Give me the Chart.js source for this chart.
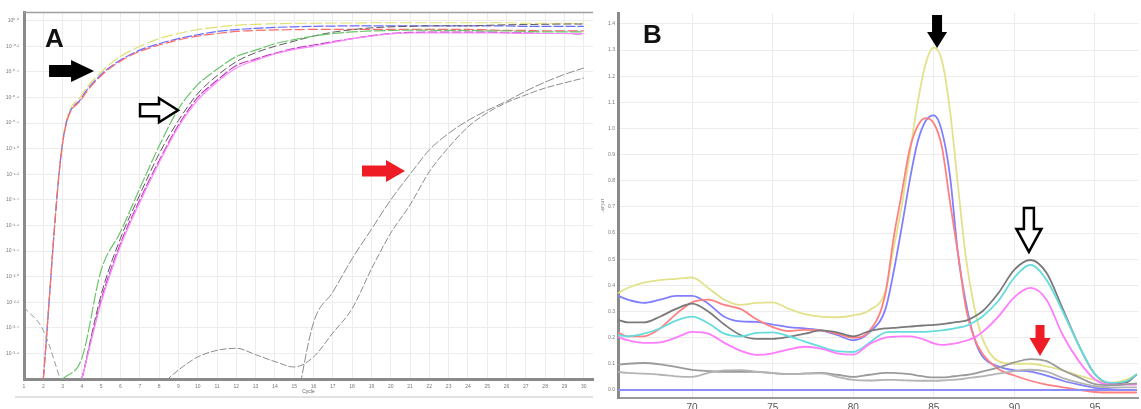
<!DOCTYPE html>
<html><head><meta charset="utf-8">
<script src="https://cdn.jsdelivr.net/npm/chart.js@4.4.0/dist/chart.umd.min.js"></script>
<style>
html,body{margin:0;padding:0;background:#fff;overflow:hidden;width:1141px;height:409px;}
#wrapA{position:absolute;left:0;top:0;width:600px;height:409px;}
#wrapB{position:absolute;left:600px;top:0;width:541px;height:420px;}
.lbl{position:absolute;font:bold 26px "Liberation Sans",Arial,sans-serif;line-height:26px;color:#111;}
</style></head><body>
<div id="wrapA"><canvas id="cA" width="600" height="409"></canvas></div>
<div id="wrapB"><canvas id="cB" width="541" height="420"></canvas></div>
<div class="lbl" style="left:45px;top:25px">A</div>
<div class="lbl" style="left:643px;top:21px">B</div>
<script>
// ---------- Panel A data (amplification, cycles) ----------
const cyclesA = [1,2,3,4,5,6,7,8,9,10,11,12,13,14,15,16,17,18,19,20,21,22,23,24,25,26,27,28,29,30];
const yTicksA = [0,1,2,3,4,5,6,7,8,9,10,11,12,13,14];
const yTickLabelsA = ['', '10⁻²·⁶','10⁻²·⁴','10⁻²·²','10⁻²·⁰','10⁻¹·⁸','10⁻¹·⁶','10⁻¹·⁴','10⁻¹·²','10⁻¹·⁰','10⁻⁰·⁸','10⁻⁰·⁶','10⁻⁰·⁴','10⁻⁰·²','10⁰·⁰'];
const yellowA  = [null,0,9.3,11.1,12.0,12.6,13.0,13.3,13.5,13.65,13.75,13.82,13.86,13.88,13.9,13.9,13.91,13.91,13.92,13.92,13.92,13.92,13.92,13.92,13.92,13.92,13.9,13.9,13.9,13.9];
const blueA    = [null,0,9.22,11.0,11.9,12.46,12.85,13.1,13.3,13.45,13.58,13.65,13.7,13.74,13.76,13.78,13.79,13.8,13.8,13.8,13.8,13.8,13.8,13.8,13.8,13.8,13.78,13.78,13.78,13.78];
const redA     = [null,0,9.2,10.95,11.85,12.42,12.8,13.05,13.25,13.4,13.5,13.58,13.62,13.64,13.65,13.66,13.66,13.66,13.66,13.66,13.66,13.66,13.66,13.66,13.64,13.62,13.62,13.6,13.6,13.6];
const greenA   = [null,null,0,0.82,4.26,5.75,7.45,9.1,10.55,11.5,12.1,12.6,12.85,13.1,13.26,13.4,13.5,13.56,13.6,13.62,13.63,13.63,13.62,13.62,13.6,13.6,13.58,13.56,13.56,13.56];
const darkA    = [null,null,null,0,3.3,5.5,7.2,8.8,10.1,11.15,11.85,12.4,12.75,13.0,13.2,13.4,13.55,13.65,13.72,13.76,13.78,13.8,13.8,13.8,13.82,13.84,13.85,13.86,13.87,13.87];
const magentaA = [null,null,null,0,3.1,5.3,7.0,8.53,9.92,11.0,11.67,12.25,12.5,12.73,12.92,13.05,13.18,13.3,13.42,13.5,13.54,13.55,13.55,13.55,13.55,13.53,13.52,13.5,13.5,13.48];
const pinkA    = [null,null,null,0,3.0,5.2,6.9,8.45,9.85,10.9,11.6,12.15,12.45,12.7,12.88,13.0,13.15,13.3,13.4,13.48,13.52,13.52,13.52,13.52,13.52,13.52,13.5,13.5,13.5,13.5];
const grayDriftA = [2.8,1.9,-0.3,null,null,null,null,null,null,null,null,null,null,null,null,null,null,null,null,null,null,null,null,null,null,null,null,null,null,null];
const grayHumpA  = [null,null,null,null,null,null,null,-0.3,0.35,0.86,1.12,1.2,0.95,0.68,0.47,0.86,1.8,2.75,4.3,5.7,6.8,8.1,9.05,9.85,10.4,10.8,11.1,11.37,11.57,11.76];
const graySteepA = [null,null,null,null,null,null,null,null,null,null,null,null,null,null,-1.47,2.2,3.4,4.7,5.85,7.0,8.0,8.95,9.6,10.1,10.5,10.85,11.25,11.6,11.9,12.15];

// ---------- Panel B data (melt curves, temperature) ----------
const tempsB = [65.4,66,67,68,69,70,71,72,73,74,75,76,77,78,79,80,81,82,82.5,83,83.5,84,84.5,85,85.5,86,86.5,87,87.5,88,89,90,91,92,93,94,95,96,97,97.6];
const xTicksB = [70,75,80,85,90,95];
const yTicksB = [0,0.1,0.2,0.3,0.4,0.5,0.6,0.7,0.8,0.9,1.0,1.1,1.2,1.3,1.4];
const yellowB  = [0.37,0.39,0.41,0.42,0.425,0.43,0.39,0.345,0.325,0.333,0.335,0.31,0.29,0.28,0.278,0.285,0.305,0.38,0.54,0.70,0.90,1.10,1.25,1.31,1.26,1.07,0.78,0.50,0.32,0.20,0.11,0.10,0.10,0.09,0.075,0.055,0.038,0.028,0.04,0.06];
const blueB    = [0.36,0.345,0.333,0.345,0.36,0.36,0.33,0.28,0.262,0.26,0.25,0.24,0.235,0.228,0.21,0.19,0.22,0.31,0.45,0.62,0.80,0.95,1.03,1.05,0.99,0.82,0.52,0.33,0.20,0.13,0.09,0.075,0.07,0.055,0.035,0.02,0.008,0.003,0.0,0.0];
const redB     = [0.22,0.205,0.205,0.235,0.29,0.335,0.345,0.325,0.31,0.27,0.24,0.225,0.23,0.228,0.215,0.20,0.225,0.37,0.58,0.75,0.92,1.01,1.04,1.02,0.93,0.72,0.52,0.31,0.20,0.14,0.08,0.055,0.035,0.02,0.01,0.0,-0.008,-0.01,-0.01,-0.01];
const darkB    = [0.268,0.258,0.258,0.28,0.31,0.33,0.30,0.25,0.21,0.195,0.195,0.203,0.215,0.228,0.22,0.205,0.225,0.235,0.237,0.24,0.242,0.245,0.247,0.249,0.252,0.256,0.26,0.265,0.28,0.30,0.37,0.46,0.497,0.447,0.31,0.17,0.06,0.025,0.03,0.06];
const cyanB    = [0.21,0.205,0.215,0.235,0.265,0.28,0.255,0.215,0.205,0.218,0.22,0.205,0.185,0.165,0.148,0.145,0.18,0.22,0.222,0.222,0.222,0.222,0.222,0.225,0.228,0.232,0.238,0.245,0.26,0.28,0.34,0.43,0.478,0.42,0.30,0.17,0.06,0.027,0.035,0.06];
const magentaB = [0.203,0.19,0.18,0.182,0.20,0.222,0.215,0.18,0.15,0.134,0.14,0.155,0.165,0.158,0.14,0.135,0.175,0.20,0.203,0.205,0.205,0.20,0.19,0.178,0.172,0.175,0.18,0.188,0.20,0.22,0.28,0.355,0.39,0.344,0.21,0.11,0.04,0.02,0.02,0.02];
const gray1B   = [0.096,0.1,0.103,0.098,0.088,0.077,0.072,0.069,0.069,0.069,0.064,0.06,0.063,0.065,0.058,0.05,0.058,0.065,0.065,0.063,0.06,0.055,0.05,0.048,0.048,0.05,0.054,0.057,0.062,0.07,0.085,0.105,0.118,0.11,0.075,0.048,0.022,0.018,0.022,0.025];
const gray2B   = [0.069,0.065,0.062,0.058,0.052,0.05,0.065,0.075,0.076,0.07,0.065,0.06,0.062,0.063,0.05,0.038,0.036,0.038,0.038,0.037,0.036,0.035,0.035,0.035,0.036,0.038,0.04,0.044,0.048,0.052,0.062,0.072,0.077,0.07,0.045,0.028,0.014,0.01,0.01,0.01];
const baselineTempsB = [65.4,97.6];
const baselineB = [0.0,0.0];

// ---------- helpers ----------
const FONT = '"Liberation Sans", Arial, sans-serif';
Chart.defaults.font.family = FONT;
const pts = (xs, ys) => xs.map((x,i)=>({x:x, y:ys[i]}));

const arrowPlugin = {
  id:'arrows',
  afterDatasetsDraw(chart, args, opts){
    const ctx = chart.ctx, xs = chart.scales.x, ys = chart.scales.y;
    (opts.items||[]).forEach(a=>{
      const tx = xs.getPixelForValue(a.x), ty = ys.getPixelForValue(a.y);
      ctx.save(); ctx.translate(tx,ty); ctx.rotate(a.angle);
      const L=a.len, h=a.head, w=a.shaft/2, hw=a.headW/2;
      ctx.beginPath();
      ctx.moveTo(0,0); ctx.lineTo(-h,-hw); ctx.lineTo(-h,-w); ctx.lineTo(-L,-w);
      ctx.lineTo(-L,w); ctx.lineTo(-h,w); ctx.lineTo(-h,hw); ctx.closePath();
      ctx.fillStyle=a.fill; ctx.fill();
      if(a.stroke){ctx.lineWidth=a.lw; ctx.strokeStyle=a.stroke; ctx.lineJoin='miter'; ctx.stroke();}
      ctx.restore();
    });
  }
};
const framePlugin = {
  id:'frame',
  afterDraw(chart, args, opts){
    if(!opts.on) return;
    const ctx = chart.ctx, ca = chart.chartArea;
    ctx.save();
    ctx.strokeStyle = '#a0a0a0'; ctx.lineWidth = 1.5;
    ctx.beginPath(); ctx.moveTo(ca.left, ca.top+0.5); ctx.lineTo(ca.right, ca.top+0.5); ctx.stroke();
    ctx.strokeStyle = '#e2e2e2'; ctx.lineWidth = 2;
    ctx.beginPath(); ctx.moveTo(15, 397); ctx.lineTo(ca.right, 397); ctx.stroke();
    ctx.restore();
  }
};

function lineDS(data, color, width, dash){
  return {data:data, borderColor:color, borderWidth:width, borderDash:dash||[], pointRadius:0,
          cubicInterpolationMode:'monotone', spanGaps:false, fill:false};
}

// ---------- Chart A ----------
new Chart(document.getElementById('cA'), {
  type:'line',
  data:{
    datasets:[
      lineDS(pts(cyclesA, grayDriftA), '#9a9a9a', 1, [6,3]),
      lineDS(pts(cyclesA, grayHumpA), '#8c8c8c', 1, [7,2]),
      lineDS(pts(cyclesA, graySteepA), '#8c8c8c', 1, [9,2]),
      lineDS(pts(cyclesA, greenA), '#6cc46c', 1.2, [12,2]),
      lineDS(pts(cyclesA, pinkA), '#ff88ff', 1.2, []),
      lineDS(pts(cyclesA, magentaA), '#c040c0', 1.2, [10,2]),
      lineDS(pts(cyclesA, darkA), '#5a5a5a', 1, [8,3]),
      lineDS(pts(cyclesA, redA), '#ff6a6a', 1.2, [10,3]),
      lineDS(pts(cyclesA, blueA), '#6a6aff', 1.2, [10,2]),
      lineDS(pts(cyclesA, yellowA), '#e0e070', 1.2, [12,3])
    ]
  },
  options:{
    responsive:false, animation:false, devicePixelRatio:1,
    layout:{padding:{left:0, top:12, right:7, bottom:0}},
    plugins:{legend:{display:false}, tooltip:{enabled:false},
      frame:{on:true},
      arrows:{items:[
        {x:4.63, y:12.03, angle:0, len:45, head:23, shaft:12, headW:22, fill:'#000'},
        {x:8.98, y:10.5, angle:0, len:38, head:19, shaft:12, headW:24, fill:'#fff', stroke:'#000', lw:2.5},
        {x:20.74, y:8.13, angle:0, len:43, head:19, shaft:11, headW:22, fill:'#ee1c25'}
      ]}
    },
    scales:{
      x:{type:'linear', min:1, max:30.48,
        afterBuildTicks:(s)=>{ s.ticks = cyclesA.map(v=>({value:v})); },
        afterFit:(s)=>{ s.height = 30; },
        ticks:{font:{size:5}, color:'#777', padding:5, maxRotation:0, autoSkip:false},
        grid:{color:'#ececec', drawTicks:false},
        border:{color:'#8a8a8a', width:3},
        title:{display:true, text:'Cycle', font:{size:5}, color:'#666', padding:{top:0,bottom:14}}
      },
      y:{type:'linear', min:0, max:14.34,
        afterBuildTicks:(s)=>{ s.ticks = yTicksA.map(v=>({value:v})); },
        afterFit:(s)=>{ s.width = 24; },
        ticks:{font:{size:5}, color:'#777', padding:5, callback:(v)=>yTickLabelsA[yTicksA.indexOf(v)]},
        grid:{color:'#ececec', drawTicks:false},
        border:{color:'#8a8a8a', width:3}
      }
    }
  },
  plugins:[arrowPlugin, framePlugin]
});

// ---------- Chart B ----------
new Chart(document.getElementById('cB'), {
  type:'line',
  data:{
    datasets:[
      lineDS(pts(baselineTempsB, baselineB), '#8c8cff', 2, []),
      lineDS(pts(tempsB, gray2B), '#b4b4b4', 1.8, []),
      lineDS(pts(tempsB, gray1B), '#9a9a9a', 1.8, []),
      lineDS(pts(tempsB, magentaB), '#ff7cff', 1.8, []),
      lineDS(pts(tempsB, cyanB), '#66dcdc', 1.8, []),
      lineDS(pts(tempsB, darkB), '#7a7a7a', 1.8, []),
      lineDS(pts(tempsB, redB), '#ff8080', 1.8, []),
      lineDS(pts(tempsB, blueB), '#8080ff', 1.8, []),
      lineDS(pts(tempsB, yellowB), '#e2e28c', 1.8, [])
    ]
  },
  options:{
    responsive:false, animation:false, devicePixelRatio:1,
    layout:{padding:{left:0, top:13, right:3, bottom:0}},
    plugins:{legend:{display:false}, tooltip:{enabled:false},
      arrows:{items:[
        {x:85.2, y:1.308, angle:Math.PI/2, len:33, head:16, shaft:10, headW:20, fill:'#000'},
        {x:90.9, y:0.528, angle:Math.PI/2, len:44, head:23, shaft:10, headW:25, fill:'#fff', stroke:'#000', lw:2.5},
        {x:91.59, y:0.13, angle:Math.PI/2, len:31, head:18, shaft:9, headW:21, fill:'#ee1c25'}
      ]}
    },
    scales:{
      x:{type:'linear', min:65.4, max:97.67,
        afterBuildTicks:(s)=>{ s.ticks = xTicksB.map(v=>({value:v})); },
        afterFit:(s)=>{ s.height = 22; },
        ticks:{font:{size:10}, color:'#555', padding:4, maxRotation:0},
        grid:{color:'#ececec', drawTicks:false},
        border:{color:'#9a9a9a', width:2}
      },
      y:{type:'linear', min:-0.031, max:1.442,
        afterBuildTicks:(s)=>{ s.ticks = yTicksB.map(v=>({value:v})); },
        afterFit:(s)=>{ s.width = 18; },
        ticks:{font:{size:5}, color:'#777', padding:3, callback:(v)=>v.toFixed(1)},
        grid:{color:'#ececec', drawTicks:false},
        border:{color:'#8a8a8a', width:3},
        title:{display:true, text:'-d(F)/dT', font:{size:4}, color:'#777', padding:0}
      }
    }
  },
  plugins:[arrowPlugin]
});
</script>
</body></html>
